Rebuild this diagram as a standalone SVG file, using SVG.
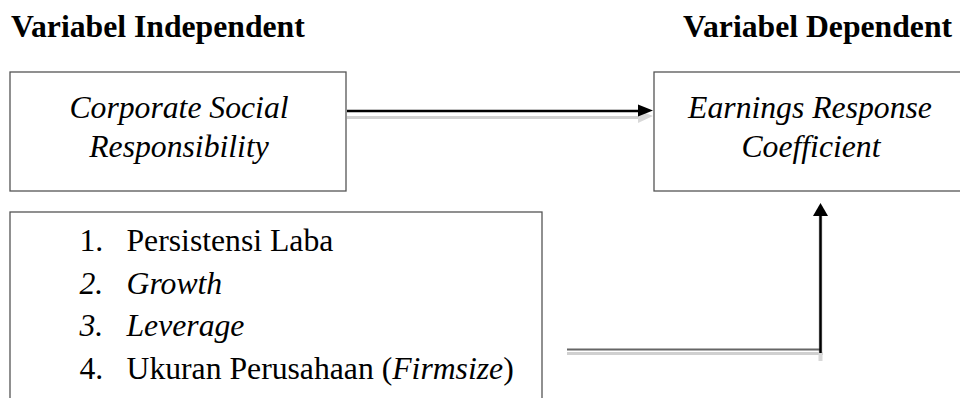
<svg xmlns="http://www.w3.org/2000/svg" width="960" height="398" viewBox="0 0 960 398">
<style>
text{font-family:'Liberation Serif','Times New Roman',Times,serif;fill:#000;font-size:31.7px}
.h{font-weight:bold}
.i{font-style:italic}
.box{fill:#fff;stroke:#555;stroke-width:1.3}
.sh{stroke:#d0d0d0;fill:none}
</style>
<text class="h" x="11" y="37">Variabel Independent</text>
<text class="h" x="683" y="37">Variabel Dependent</text>
<g id="csr">
<rect class="box" x="10" y="72" width="336" height="119"/>
<text class="i" x="179" y="118" text-anchor="middle">Corporate Social</text>
<text class="i" x="179" y="157" text-anchor="middle">Responsibility</text>
</g>
<g id="erc">
<rect class="box" x="654" y="72" width="312" height="119"/>
<text class="i" x="810" y="118" text-anchor="middle">Earnings Response</text>
<text class="i" x="811" y="157" text-anchor="middle">Coefficient</text>
</g>
<g id="controls">
<rect class="box" x="10" y="212" width="532" height="200"/>
<text x="79.5" y="251">1.</text><text x="126.5" y="251">Persistensi Laba</text>
<text class="i" x="79.5" y="294">2.</text><text class="i" x="126.5" y="294">Growth</text>
<text class="i" x="79.5" y="336">3.</text><text class="i" x="126.5" y="336">Leverage</text>
<text x="79.5" y="378.5">4.</text><text x="126.5" y="378.5">Ukuran Perusahaan (<tspan class="i">Firmsize</tspan>)</text>
</g>
<g id="connectors">
<line class="sh" x1="347" y1="117.5" x2="640" y2="117.5" stroke-width="3"/>
<path d="M638,110L653,116L638,123z" fill="#d8d8d8"/>
<line x1="347" y1="111" x2="640" y2="111" stroke="#000" stroke-width="2.5"/>
<path d="M638,104.5L653,110.5L638,116.5z" fill="#000"/>
<line class="sh" x1="567" y1="353.5" x2="823" y2="353.5" stroke-width="3"/>
<rect x="818.5" y="215" width="4" height="146" fill="#d8d8d8"/>
<line x1="567" y1="349.5" x2="820" y2="349.5" stroke="#666" stroke-width="2"/>
<line x1="820.5" y1="353" x2="820.5" y2="214" stroke="#000" stroke-width="2.5"/>
<path d="M813,216L820.5,203L828,216z" fill="#000"/>
</g>
</svg>
